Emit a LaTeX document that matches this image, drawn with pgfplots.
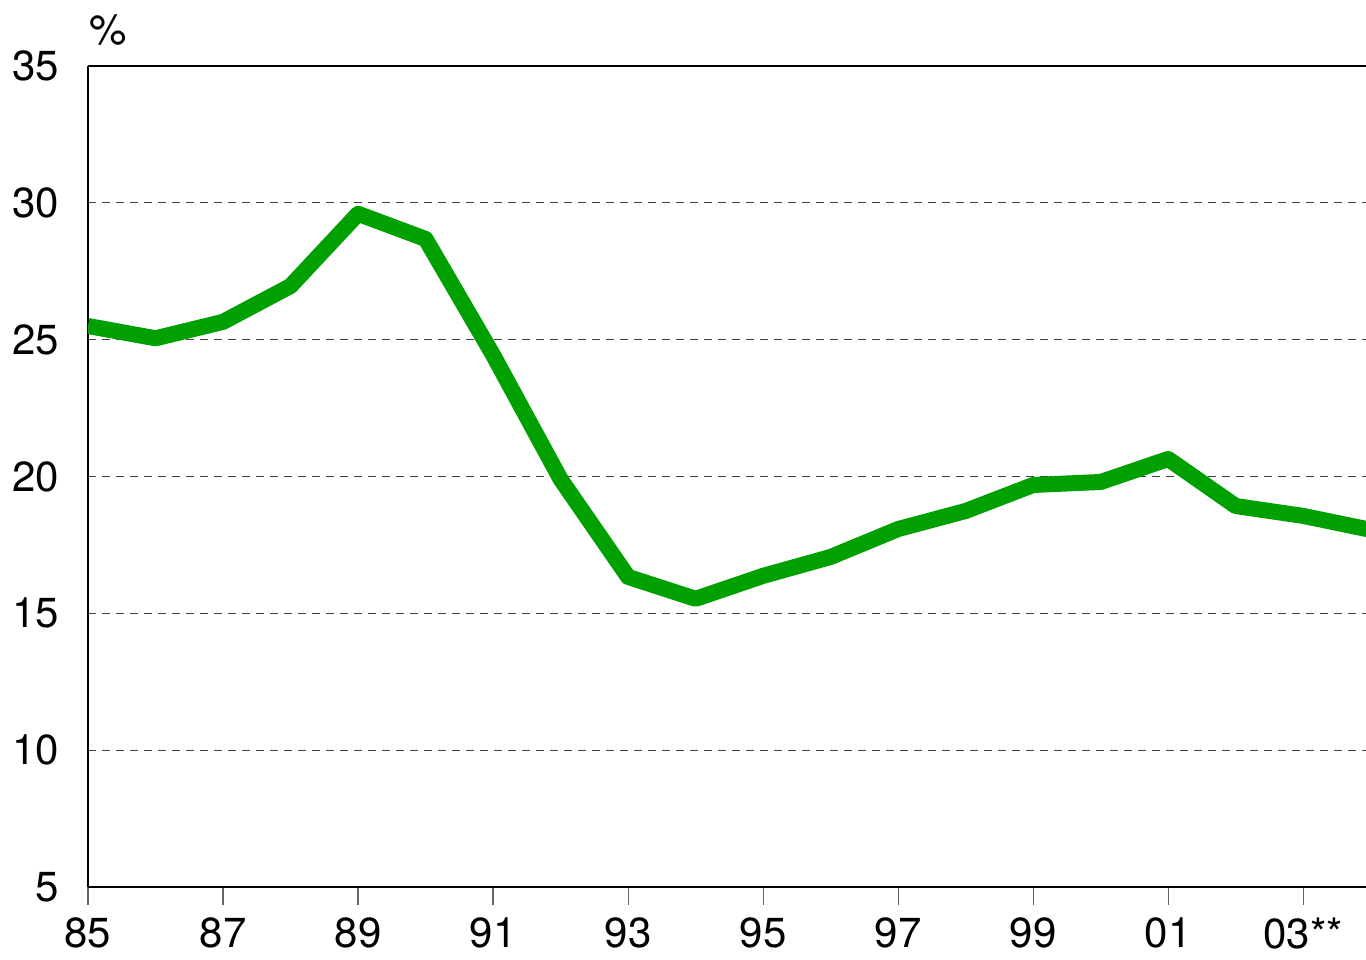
\documentclass[border=0pt]{standalone}
\usepackage{pgfplots}
\pgfplotsset{compat=1.18}
\usepackage{fontspec}
\setmainfont{TeX Gyre Heros}
\definecolor{lgreen}{RGB}{0,160,0}
\begin{document}
\begin{tikzpicture}
\begin{axis}[
  name=main,
  scale only axis,
  width=639pt, height=410.5pt,
  xmin=1985, xmax=2003.93,
  ymin=5, ymax=35,
  axis x line*=bottom, axis y line*=left,
  axis line style={line width=1.4pt, -},
  xtick={1985,1987,1989,1991,1993,1995,1997,1999,2001,2003},
  xticklabels={85,87,89,91,93,95,97,99,01,03**},
  ytick={5,10,15,20,25,30,35},
  x tick style={gray!80!black, line width=0.6pt},
  xtick align=outside,
  major tick length=9pt,
  y tick style={draw=none},
  ymajorgrids,
  major grid style={dash pattern=on 4pt off 3pt, black!75, line width=0.5pt},
  /pgf/number format/assume math mode=true,
  tick label style={font=\fontsize{21}{24}\selectfont},
  yticklabel style={xshift=-11pt},
  xticklabel style={yshift=-5pt, inner sep=1pt},
  clip=true,
]
\addplot[color=lgreen, line width=8pt, line join=round] coordinates {
(1985,25.5) (1986,25.05) (1987,25.65) (1988,26.96) (1989,29.6) (1990,28.68)
(1991,24.44) (1992,19.9) (1993,16.33) (1994,15.53) (1995,16.37) (1996,17.06)
(1997,18.08) (1998,18.74) (1999,19.69) (2000,19.8) (2001,20.64) (2002,18.92)
(2003,18.56) (2004,18.05)
};
\end{axis}
\draw[line width=1.4pt] (main.north west) -- (main.north east);
\node[font=\fontsize{21}{24}\selectfont, anchor=center] at ([xshift=10pt, yshift=18pt]main.north west) {\%};
\pgfresetboundingbox
\path[use as bounding box] (-44pt,-36pt) rectangle (639pt,443.5pt);
\end{tikzpicture}
\end{document}
